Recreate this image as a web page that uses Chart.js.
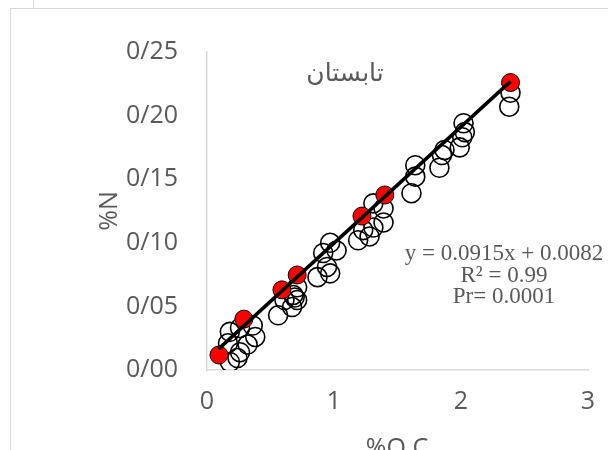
<!DOCTYPE html>
<html>
<head>
<meta charset="utf-8">
<script src="https://cdn.jsdelivr.net/npm/chart.js@4.4.1/dist/chart.umd.min.js"></script>
<style>
  html, body { margin: 0; padding: 0; background: #fff; }
  #wrap { position: relative; width: 608px; height: 450px; overflow: hidden; }
  .frame { position: absolute; border: 1px solid #d9d9d9; }
  canvas { position: absolute; left: 0; top: 0; }
</style>
</head>
<body>
<div id="wrap">
  <div class="frame" style="left:33px; top:-10px; width:700px; height:17px;"></div>
  <div class="frame" style="left:10px; top:8px; width:700px; height:500px;"></div>
  <canvas id="chart" width="608" height="450"></canvas>
</div>
<script>
// نقاط اندازه گیری (دایره های توخالی)
const openX = [0.18, 0.165, 0.18, 0.26, 0.36, 0.38, 0.32, 0.26, 0.24,
               0.56, 0.67, 0.69, 0.61, 0.71, 0.68, 0.71,
               0.97, 1.02, 0.915, 0.945, 0.97, 0.87,
               1.39, 1.39, 1.31, 1.31, 1.23, 1.19, 1.28,
               1.64, 1.64, 1.61, 1.83, 1.85, 1.87,
               2.02, 2.01, 1.99, 2.03, 2.39, 2.38];
const openY = [0.0063, 0.021, 0.030, 0.033, 0.035, 0.026, 0.020, 0.014, 0.0094,
               0.043, 0.0495, 0.057, 0.055, 0.065, 0.059, 0.055,
               0.100, 0.094, 0.092, 0.081, 0.076, 0.073,
               0.127, 0.116, 0.131, 0.112, 0.110, 0.102, 0.105,
               0.161, 0.152, 0.139, 0.159, 0.169, 0.173,
               0.194, 0.183, 0.175, 0.187, 0.218, 0.207];

// نقاط قرمز
const redX = [0.094, 0.29, 0.59, 0.71, 1.22, 1.40, 2.39];
const redY = [0.0118, 0.040, 0.063, 0.0747, 0.121, 0.1376, 0.226];

// خط روند
const slope = 0.0915;
const intercept = 0.0082;
const trendX = [0.09, 2.39];

const yTickLabels = ['0/00', '0/05', '0/10', '0/15', '0/20', '0/25'];
const xTickLabels = ['0', '1', '2', '3'];

const eqLines = ['y = 0.0915x + 0.0082', 'R² = 0.99', 'Pr= 0.0001'];
const seasonLabel = 'تابستان';
const xTitle = '%O.C';
const yTitle = '%N';

const gray = '#595959';
const tickFont = { family: "'Open Sans', sans-serif", size: 25 };

function pts(xs, ys) {
  return xs.map((x, i) => ({ x: x, y: ys[i] }));
}

// متن ها و عنوان محورها
const textPlugin = {
  id: 'texts',
  afterDraw(chart) {
    const ctx = chart.ctx;
    ctx.save();
    ctx.fillStyle = gray;

    ctx.font = "25px 'DejaVu Sans', sans-serif";
    ctx.textAlign = 'center';
    ctx.textBaseline = 'alphabetic';
    ctx.fillText(seasonLabel, 345, 81);

    ctx.font = "23px 'Liberation Serif', 'Times New Roman', serif";
    eqLines.forEach((t, i) => ctx.fillText(t, 504, 260 + i * 21.7));

    ctx.font = "25px 'Open Sans', sans-serif";
    ctx.fillText(xTitle, 397, 456);

    ctx.translate(117, 211);
    ctx.rotate(-Math.PI / 2);
    ctx.fillText(yTitle, 0, 0);
    ctx.restore();
  }
};

new Chart(document.getElementById('chart'), {
  type: 'scatter',
  data: {
    datasets: [
      {
        type: 'line',
        data: pts(trendX, trendX.map(x => slope * x + intercept)),
        borderColor: '#000',
        borderWidth: 3.5,
        pointRadius: 0,
        fill: false,
        order: 0
      },
      {
        data: pts(redX, redY),
        backgroundColor: '#ff0000',
        borderColor: '#000',
        borderWidth: 1,
        pointRadius: 9,
        order: 1
      },
      {
        data: pts(openX, openY),
        backgroundColor: 'rgba(0,0,0,0)',
        borderColor: '#000',
        borderWidth: 1.6,
        pointRadius: 9.5,
        order: 2
      }
    ]
  },
  options: {
    responsive: false,
    animation: false,
    layout: { padding: { top: 52, right: 20, bottom: 0, left: 0 } },
    plugins: { legend: { display: false }, tooltip: { enabled: false } },
    scales: {
      x: {
        type: 'linear',
        min: 0,
        max: 3,
        ticks: {
          stepSize: 1,
          color: gray,
          font: tickFont,
          padding: 17,
          callback: (v, i) => xTickLabels[i]
        },
        grid: { display: false, drawTicks: false },
        border: { color: '#d9d9d9', width: 1.5 },
        afterFit: s => { s.height = 80; s.paddingRight = 0; s.paddingLeft = 0; }
      },
      y: {
        min: 0,
        max: 0.25,
        ticks: {
          stepSize: 0.05,
          color: gray,
          font: tickFont,
          padding: 29,
          callback: (v, i) => yTickLabels[i]
        },
        grid: { display: false, drawTicks: false },
        border: { color: '#d9d9d9', width: 1.5 },
        afterFit: s => { s.width = 207; s.paddingTop = 0; s.paddingBottom = 0; }
      }
    }
  },
  plugins: [textPlugin]
});
</script>
</body>
</html>
